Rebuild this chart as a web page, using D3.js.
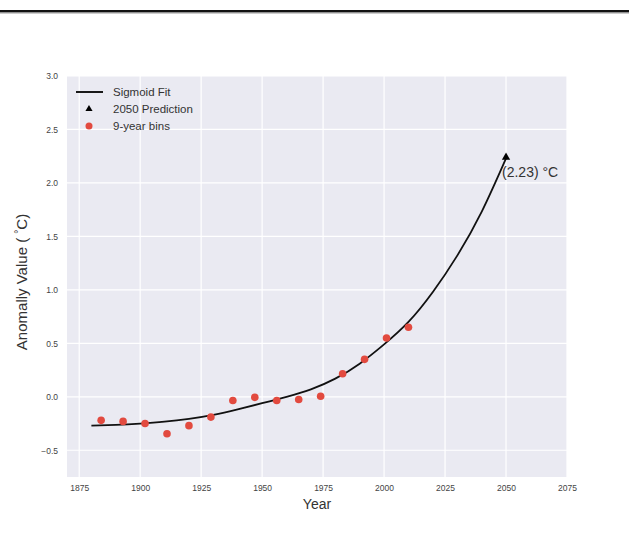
<!DOCTYPE html>
<html><head><meta charset="utf-8">
<script src="https://cdn.jsdelivr.net/npm/d3@7"></script>
<style>body{margin:0;background:#fff}svg{display:block;font-family:"Liberation Sans",Arial,sans-serif}</style>
</head><body><svg id="c" width="629" height="537"></svg>
<script>
const binYears = [1884,1893,1902,1911,1920,1929,1938,1947,1956,1965,1974,1983,1992,2001,2010];
const binValues = [-0.22,-0.23,-0.25,-0.345,-0.27,-0.19,-0.035,-0.005,-0.035,-0.025,0.005,0.215,0.35,0.55,0.65];
const fitYears = [1880,1890,1900,1910,1920,1930,1940,1950,1960,1970,1980,1990,2000,2010,2020,2030,2040,2050];
const fitValues = [-0.27,-0.262,-0.25,-0.233,-0.207,-0.17,-0.118,-0.06,0.0,0.07,0.17,0.31,0.49,0.70,0.98,1.32,1.73,2.23];
const predYear = [2050];
const predValue = [2.23];
const xTicks = [1875,1900,1925,1950,1975,2000,2025,2050,2075];
const yTicks = [-0.5,0.0,0.5,1.0,1.5,2.0,2.5,3.0];

const svg = d3.select("#c");
const L=67,R=567,T=76,B=477;
const x = d3.scaleLinear().domain([1870,2075]).range([L,R]);
const y = d3.scaleLinear().domain([-0.75,3.0]).range([B,T]);

svg.append("rect").attr("x",0).attr("y",10).attr("width",629).attr("height",2.5).attr("fill","#111");
svg.append("rect").attr("x",0).attr("y",12.5).attr("width",629).attr("height",1).attr("fill","#999");

svg.append("rect").attr("x",L).attr("y",T).attr("width",R-L).attr("height",B-T).attr("fill","#EAEAF2");
svg.append("g").selectAll("line").data(xTicks).join("line")
  .attr("x1",d=>x(d)).attr("x2",d=>x(d)).attr("y1",T).attr("y2",B).attr("stroke","#fff").attr("stroke-width",1.2);
svg.append("g").selectAll("line").data(yTicks).join("line")
  .attr("y1",d=>y(d)).attr("y2",d=>y(d)).attr("x1",L).attr("x2",R).attr("stroke","#fff").attr("stroke-width",1.2);

const xa = svg.append("g").attr("transform",`translate(0,${B})`)
  .call(d3.axisBottom(x).tickValues(xTicks).tickFormat(d3.format("d")).tickSize(0).tickPadding(8));
xa.select(".domain").remove();
xa.selectAll("text").attr("font-size",8.5).attr("fill","#444").attr("font-family","Liberation Sans, Arial");
const ya = svg.append("g").attr("transform",`translate(${L},0)`)
  .call(d3.axisLeft(y).tickValues(yTicks).tickFormat(d3.format(".1f")).tickSize(0).tickPadding(9));
ya.select(".domain").remove();
ya.selectAll("text").attr("font-size",8.5).attr("fill","#444").attr("font-family","Liberation Sans, Arial");

const line = d3.line().x((d,i)=>x(fitYears[i])).y(d=>y(d)).curve(d3.curveNatural);
svg.append("path").datum(fitValues).attr("d",line).attr("fill","none").attr("stroke","#111").attr("stroke-width",1.8);

svg.append("g").selectAll("circle").data(binValues).join("circle")
  .attr("cx",(d,i)=>x(binYears[i])).attr("cy",d=>y(d)).attr("r",3.8).attr("fill","#E24A3F");

const tri = d3.symbol().type(d3.symbolTriangle).size(30);
svg.append("g").selectAll("path").data(predValue).join("path")
  .attr("d",tri).attr("transform",(d,i)=>`translate(${x(predYear[i])},${y(d)-1})`).attr("fill","#000");
svg.append("text").attr("x",x(predYear[0])-4).attr("y",y(predValue[0])+19)
  .attr("font-size",14).attr("fill","#333").text(`(${predValue[0].toFixed(2)}) °C`);

// legend
const lg = svg.append("g");
lg.append("line").attr("x1",76).attr("x2",103).attr("y1",92).attr("y2",92).attr("stroke","#000").attr("stroke-width",1.8);
lg.append("path").attr("d",d3.symbol().type(d3.symbolTriangle).size(22)).attr("transform","translate(89,109)").attr("fill","#000");
lg.append("circle").attr("cx",89).attr("cy",126).attr("r",3.5).attr("fill","#E24A3F");
[["Sigmoid Fit",92],["2050 Prediction",109],["9-year bins",126]].forEach(([t,yy])=>{
  lg.append("text").attr("x",113).attr("y",yy).attr("dy","0.35em").attr("font-size",11.5).attr("fill","#333").text(t);
});

svg.append("text").attr("x",(L+R)/2).attr("y",509).attr("text-anchor","middle").attr("font-size",14).attr("fill","#333").text("Year");
const yl = svg.append("text").attr("transform","translate(27,282) rotate(-90)").attr("text-anchor","middle").attr("font-size",15).attr("fill","#333");
yl.append("tspan").text("Anomally Value ( ");
yl.append("tspan").attr("font-size",10).attr("dy",-5).text("°");
yl.append("tspan").attr("dy",5).text("C)");
</script></body></html>
